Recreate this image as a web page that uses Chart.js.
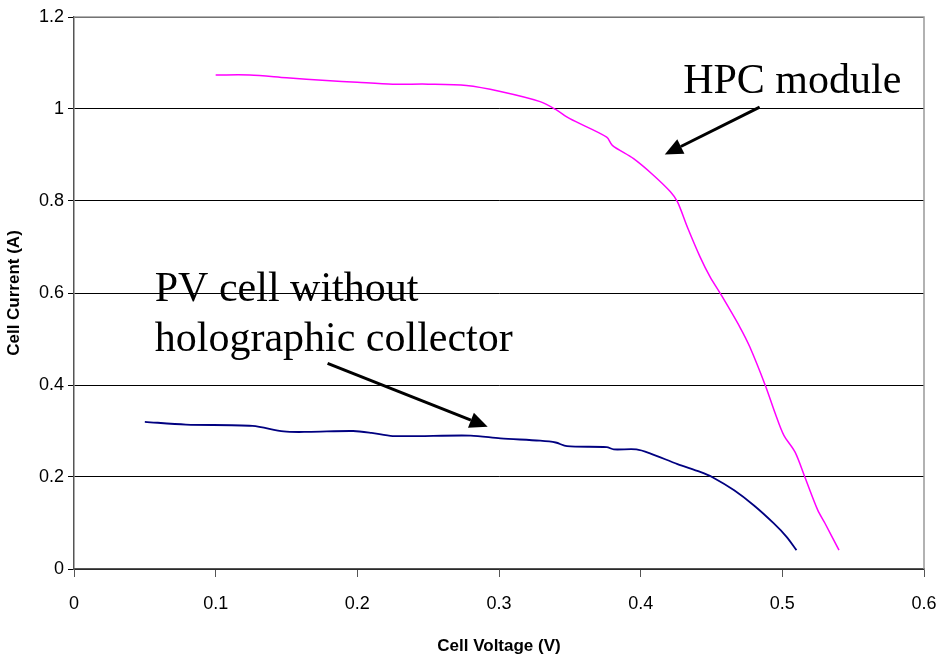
<!DOCTYPE html>
<html lang="en">
<head>
    <meta charset="UTF-8">
    <title>Cell Current vs Cell Voltage</title>
    <script src="https://cdn.jsdelivr.net/npm/chart.js"></script>
    <style>
        body {
            margin: 0;
            background: #fff;
        }
        #wrap {
            width: 941px;
            height: 658px;
        }
    </style>
</head>
<body>
    <div id="wrap"><canvas id="myChart" width="941" height="658"></canvas></div>

    <script>
        // HPC module
        const hpcVoltage = [0.100, 0.124, 0.150, 0.178, 0.200, 0.225, 0.250, 0.277, 0.301, 0.329, 0.340, 0.350,
            0.376, 0.380, 0.395, 0.409, 0.421, 0.426, 0.433, 0.442, 0.449, 0.457, 0.470, 0.477, 0.488, 0.495,
            0.501, 0.509, 0.516, 0.525, 0.530, 0.540];
        const hpcCurrent = [1.074, 1.074, 1.068, 1.062, 1.058, 1.054, 1.054, 1.051, 1.038, 1.016, 0.999, 0.979,
            0.939, 0.921, 0.892, 0.856, 0.820, 0.798, 0.743, 0.678, 0.635, 0.595, 0.526, 0.483, 0.399, 0.338,
            0.291, 0.254, 0.199, 0.128, 0.100, 0.041];

        // PV cell without holographic collector
        const pvVoltage = [0.050, 0.079, 0.126, 0.148, 0.165, 0.197, 0.210, 0.225, 0.280, 0.301, 0.329, 0.340,
            0.348, 0.376, 0.381, 0.397, 0.407, 0.426, 0.442, 0.451, 0.466, 0.480, 0.494, 0.503, 0.510];
        const pvCurrent = [0.320, 0.314, 0.311, 0.299, 0.298, 0.300, 0.296, 0.289, 0.290, 0.284, 0.279, 0.275,
            0.267, 0.265, 0.260, 0.260, 0.251, 0.228, 0.211, 0.199, 0.171, 0.138, 0.099, 0.070, 0.041];

        const xTicks = [0, 0.1, 0.2, 0.3, 0.4, 0.5, 0.6];
        const yTicks = [0, 0.2, 0.4, 0.6, 0.8, 1, 1.2];

        // annotation texts and arrows, in data units
        const notes = [
            { lines: ['HPC module'], x: 0.430, y: 1.034 },
            { lines: ['PV cell without', 'holographic collector'], x: 0.057, y: 0.582 }
        ];
        const arrows = [
            { from: [0.484, 1.004], to: [0.417, 0.901] },
            { from: [0.179, 0.447], to: [0.292, 0.309] }
        ];

        const tickFont = "'Liberation Sans Narrow', 'Liberation Sans', Arial, sans-serif";

        const frame = {
            id: 'frame',
            beforeDatasetsDraw(chart) {
                const a = chart.chartArea;
                const c = chart.ctx;
                c.save();
                c.strokeStyle = '#999';
                c.lineWidth = 1.5;
                c.beginPath();
                c.moveTo(a.left, a.top);
                c.lineTo(a.right, a.top);
                c.lineTo(a.right, a.bottom);
                c.stroke();
                c.restore();
            },
            afterDatasetsDraw(chart) {
                const c = chart.ctx;
                const xs = chart.scales.x, ys = chart.scales.y;
                c.save();
                c.fillStyle = '#000';
                c.font = "42px 'Liberation Serif', 'Times New Roman', serif";
                c.textBaseline = 'alphabetic';
                notes.forEach(n => {
                    n.lines.forEach((t, i) => {
                        c.fillText(t, xs.getPixelForValue(n.x), ys.getPixelForValue(n.y) + i * 50);
                    });
                });
                c.strokeStyle = '#000';
                c.lineWidth = 3;
                arrows.forEach(ar => {
                    const x1 = xs.getPixelForValue(ar.from[0]), y1 = ys.getPixelForValue(ar.from[1]);
                    const x2 = xs.getPixelForValue(ar.to[0]), y2 = ys.getPixelForValue(ar.to[1]);
                    const ang = Math.atan2(y2 - y1, x2 - x1);
                    const hl = 18, hw = 8;
                    const bx = x2 - hl * Math.cos(ang), by = y2 - hl * Math.sin(ang);
                    c.beginPath();
                    c.moveTo(x1, y1);
                    c.lineTo(bx, by);
                    c.stroke();
                    c.beginPath();
                    c.moveTo(x2, y2);
                    c.lineTo(bx + hw * Math.sin(ang), by - hw * Math.cos(ang));
                    c.lineTo(bx - hw * Math.sin(ang), by + hw * Math.cos(ang));
                    c.closePath();
                    c.fill();
                });
                c.restore();
            }
        };

        new Chart(document.getElementById('myChart'), {
            type: 'line',
            data: {
                datasets: [{
                    label: 'HPC module',
                    data: hpcVoltage.map((v, i) => ({ x: v, y: hpcCurrent[i] })),
                    borderColor: '#ff00ff',
                    borderWidth: 1.5,
                    pointRadius: 0,
                    tension: 0.3
                }, {
                    label: 'PV cell without holographic collector',
                    data: pvVoltage.map((v, i) => ({ x: v, y: pvCurrent[i] })),
                    borderColor: '#000080',
                    borderWidth: 1.8,
                    pointRadius: 0,
                    tension: 0.3
                }]
            },
            options: {
                responsive: false,
                animation: false,
                layout: { padding: { top: 17, right: 17, left: 0, bottom: 0 } },
                plugins: {
                    legend: { display: false },
                    tooltip: { enabled: false }
                },
                scales: {
                    x: {
                        type: 'linear',
                        min: 0,
                        max: 0.6,
                        afterBuildTicks: s => { s.ticks = xTicks.map(v => ({ value: v })); },
                        afterFit: s => { s.height = 89; s.paddingLeft = 0; s.paddingRight = 0; },
                        grid: { drawOnChartArea: false, drawTicks: true, tickLength: 8, color: '#555' },
                        border: { color: '#555', width: 1.5 },
                        ticks: {
                            color: '#000',
                            padding: 16,
                            font: { family: tickFont, size: 18 },
                            callback: v => String(v)
                        },
                        title: {
                            display: true,
                            text: 'Cell Voltage (V)',
                            color: '#000',
                            font: { family: tickFont, size: 17, weight: 'bold' },
                            padding: { top: 8, bottom: 1 }
                        }
                    },
                    y: {
                        min: 0,
                        max: 1.2,
                        afterBuildTicks: s => { s.ticks = yTicks.map(v => ({ value: v })); },
                        afterFit: s => { s.width = 74; s.paddingTop = 0; s.paddingBottom = 0; },
                        grid: { color: '#000', lineWidth: 1, drawTicks: true, tickLength: 6 },
                        border: { color: '#555', width: 1.5 },
                        ticks: {
                            color: '#000',
                            padding: 4,
                            font: { family: tickFont, size: 18 },
                            callback: v => String(v)
                        },
                        title: {
                            display: true,
                            text: 'Cell Current (A)',
                            color: '#000',
                            font: { family: tickFont, size: 17, weight: 'bold' },
                            padding: { bottom: 0, top: 4 }
                        }
                    }
                }
            },
            plugins: [frame]
        });
    </script>
</body>
</html>
